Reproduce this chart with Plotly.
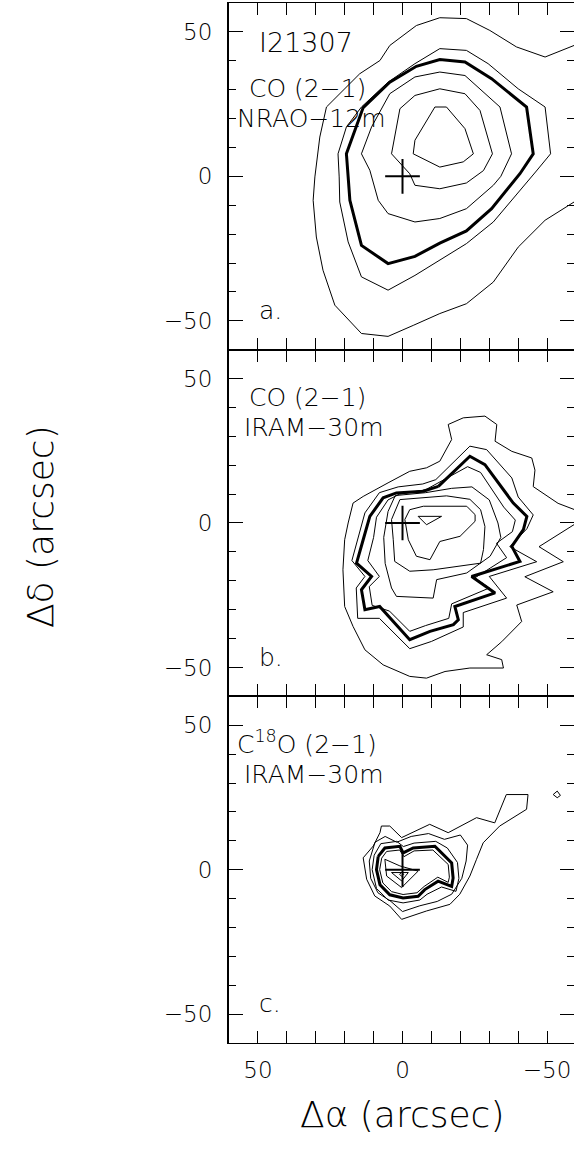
import plotly.graph_objects as go

# ---------------- data (offsets in arcsec) ----------------
SOURCE_POS = (0.0, 0.0)

# Panel a: CO(2-1) NRAO-12m contours (outer -> inner); A3 is the thick level
A1 = [(-64, 47.5), (-59.3, 45.3), (-49.3, 41.3), (-39.4, 44.8), (-30.2, 50.5), (-22.1, 54.6), (-12.9, 54.9),
      (-4.8, 52.2), (4.4, 45.3), (7.8, 40.1), (14.8, 35.5), (21.7, 28.6), (26.3, 24.0), (28.6, 13.6),
      (30.3, -0.2), (30.9, -8.3), (29.8, -21.0), (27.5, -32.5), (23.4, -44.6), (14.2, -54.4), (5.0, -55.4),
      (-3.7, -51.6), (-12.9, -47.5), (-22.1, -44.1), (-31.4, -36.6), (-40.0, -24.5), (-49.3, -15.2),
      (-59.3, -8.9), (-64, -6)]
A2 = [(21.9, -0.2), (22.3, 7.8), (19.4, 17.1), (14.2, 24.0), (5.0, 32.6), (-4.3, 39.0), (-12.9, 44.2),
      (-22.1, 43.6), (-29.6, 39.0), (-40.0, 30.3), (-49.3, 24.0), (-51.2, 7.8), (-46.0, 1.5), (-40.6, -4.8),
      (-31.4, -15.8), (-22.1, -23.3), (-12.9, -29.1), (-4.3, -34.3), (5.0, -39.4), (14.2, -34.8),
      (18.8, -22.7), (21.7, -8.9)]
A3 = [(18.8, -0.2), (19.4, 7.8), (13.6, 23.8), (4.4, 32.6), (-4.8, 38.1), (-12.9, 40.4), (-21.6, 39.6),
      (-30.8, 33.8), (-42.9, 24.0), (-45.2, 7.8), (-40.6, 0.9), (-30.8, -11.2), (-22.1, -18.9),
      (-12.9, -23.1), (-4.3, -27.7), (5.0, -30.2), (14.2, -23.9), (18.2, -8.3)]
A4 = [(14.2, 7.8), (10.7, 17.1), (4.4, 28.6), (-4.3, 34.4), (-12.9, 36.1), (-21.6, 34.9), (-33.7, 24.0),
      (-37.7, 7.8), (-34.0, 0.0), (-31.4, -3.1), (-22.1, -11.2), (-12.9, -14.6), (-4.3, -15.8),
      (5.0, -12.9), (8.4, -8.3), (11.3, 2.1)]
A5 = [(3.8, 7.8), (0.9, 23.4), (-4.3, 28.0), (-12.9, 30.3), (-21.6, 28.6), (-26.8, 22.8), (-31.1, 7.8),
      (-28.0, 2.0), (-22.1, -2.3), (-12.9, -4.3), (-4.3, -3.1), (-2.5, 0.9)]
A6 = [(-11.2, 24.0), (-15.2, 24.0), (-21.6, 16.5), (-24.5, 7.8), (-21.0, 5.0), (-12.9, 3.2), (-3.7, 7.8),
      (-4.3, 12.5)]

# Panel b: CO(2-1) IRAM-30m contours; B3 is the thick level
B1 = [(-15.8, 34.1), (-21.0, 36.4), (-28.5, 37.0), (-32.6, 34.1), (-32.0, 28.3), (-37.8, 24.8), (-44.7, 22.5),
      (-45.8, 18.3), (-45.2, 12.6), (-53.8, 6.8), (-59.3, 4.7), (-63.0, 3.0), (-61.0, 0.5), (-47.2, -8.2),
      (-55.6, -13.4), (-42.3, -18.6), (-52.1, -23.8), (-39.5, -28.4), (-41.2, -34.1), (-34.3, -41.1),
      (-29.1, -45.6), (-34.3, -47.3), (-34.9, -50.2), (-23.3, -50.2), (-14.7, -51.4), (-8.3, -53.7),
      (-2.5, -53.1), (6.7, -49.1), (13.0, -43.9), (17.1, -35.8), (20.0, -28.9), (20.6, -16.2), (20.0, -5.8),
      (18.8, 0.0), (17.1, 6.9), (13.6, 9.2), (5.0, 13.9), (-2.5, 17.9), (-8.3, 19.1), (-12.9, 21.4),
      (-17.0, 28.9)]
B2 = [(-7.0, 13.5), (-11.5, 15.0), (-23.3, 26.6), (-29.1, 25.4), (-37.8, 15.6), (-40.0, 9.0), (-45.2, 2.8),
      (-43.0, -2.0), (-37.1, -8.2), (-46.4, -13.4), (-30.0, -18.5), (-36.0, -26.0), (-21.0, -31.0),
      (-21.0, -36.0), (-10.0, -41.0), (-2.5, -43.5), (8.0, -33.0), (15.5, -33.0), (16.0, -22.5),
      (13.0, -18.5), (17.5, -13.0), (15.3, -5.0), (13.0, 3.5), (8.0, 10.5), (1.5, 12.5)]
B3 = [(-12.4, 12.7), (-23.3, 23.1), (-28.5, 20.2), (-38.3, 6.9), (-43.0, 2.3), (-41.8, -2.3), (-37.8, -8.1),
      (-40.6, -13.3), (-23.9, -18.5), (-32.0, -24.2), (-18.1, -28.9), (-19.3, -33.5), (-17.6, -35.2),
      (-9.5, -37.5), (-2.5, -40.4), (7.9, -28.9), (13.0, -30.0), (14.2, -23.1), (10.7, -18.5),
      (15.9, -13.9), (13.6, -5.8), (11.3, 2.3), (6.7, 8.7), (2.1, 10.4), (-7.2, 11.0)]
B4 = [(-8.0, 11.5), (-22.5, 19.5), (-27.0, 17.5), (-35.0, 5.5), (-39.0, 1.0), (-38.0, -3.0), (-32.5, -7.0),
      (-36.0, -12.0), (-25.0, -19.0), (-30.0, -22.5), (-17.0, -28.0), (-16.0, -33.0), (-8.0, -35.5),
      (-2.5, -37.5), (4.5, -30.5), (10.5, -28.5), (11.5, -22.0), (8.0, -18.5), (12.0, -13.0),
      (10.0, -5.0), (9.0, 2.0), (5.0, 8.0), (1.0, 10.0)]
B5 = [(2.5, 9.5), (-8.0, 10.5), (-17.0, 12.0), (-24.0, 12.5), (-30.0, 8.0), (-33.0, 0.0), (-34.0, -5.0),
      (-30.3, -11.5), (-22.2, -17.3), (-11.8, -19.6), (-10.6, -26.0), (2.1, -25.4), (3.8, -22.5),
      (6.0, -14.0), (6.5, -5.0), (5.0, 4.0)]
B6 = [(0.9, 8.1), (-15.2, 9.4), (-23.3, 8.2), (-27.0, 4.6), (-28.5, -1.2), (-28.0, -9.2), (-27.0, -13.9),
      (-10.6, -16.2), (-2.5, -16.7), (2.7, -13.3), (3.2, -5.8), (3.8, 1.2)]
B7 = [(-2.5, 4.6), (-7.2, 5.8), (-22.2, 5.8), (-25.1, 2.9), (-25.1, 0.6), (-19.9, -4.6), (-12.9, -6.4),
      (-9.5, -12.7), (-4.8, -11.5), (-2.0, -5.8), (-0.8, 1.2)]
B8 = [(-5.4, 2.3), (-13.5, 2.3), (-8.3, -0.6)]

# Panel c: C18O(2-1) IRAM-30m contours; C4 is the thick level
C1 = [(7.3, 15.1), (4.4, 15.1), (0.3, 11.1), (-9.4, 15.7), (-15.8, 12.8), (-25.6, 18.0), (-31.9, 16.2),
      (-35.9, 26.0), (-43.4, 26.0), (-42.9, 20.9), (-33.6, 15.1), (-27.9, 9.3), (-25.6, 3.6), (-23.3, -2.2),
      (-19.8, -8.5), (-16.4, -12.0), (-8.3, -14.3), (0.3, -17.2), (4.4, -12.6), (9.6, -9.1), (12.4, -3.3),
      (13.6, 4.1), (10.1, 8.2), (7.8, 12.8)]
C2 = [(9.5, 9.5), (6.0, 11.5), (2.0, 9.5), (-3.0, 11.5), (-9.0, 12.5), (-14.5, 10.5), (-20.0, 12.0),
      (-22.5, 8.5), (-22.0, 3.0), (-20.5, -3.0), (-17.0, -8.5), (-12.0, -11.0), (-6.0, -12.5), (0.0, -14.5),
      (4.0, -11.0), (8.5, -8.0), (11.0, -3.0), (11.5, 3.0)]
C3 = [(7.5, 9.0), (2.0, 9.8), (-0.3, 8.0), (-4.0, 9.2), (-11.5, 9.8), (-15.5, 7.5), (-19.0, 2.5),
      (-19.5, -3.0), (-18.5, -7.5), (-13.5, -6.0), (-8.5, -8.5), (-6.0, -10.5), (-0.2, -11.5), (5.0, -10.5),
      (9.0, -6.5), (10.5, 0.0), (9.8, 5.0)]
C4 = [(8.4, 4.6), (6.1, 7.5), (0.9, 8.1), (-0.2, 5.8), (-3.7, 7.5), (-11.2, 8.1), (-17.0, 2.3), (-17.5, -2.9),
      (-17.0, -5.8), (-12.3, -4.0), (-7.7, -6.9), (-5.4, -9.2), (-0.2, -9.8), (4.4, -8.7), (7.8, -5.2),
      (9.0, 0.0)]
C5 = [(7.2, 4.0), (5.5, 6.3), (1.0, 6.8), (-0.5, 4.5), (-4.0, 6.5), (-10.5, 6.8), (-15.8, 1.8),
      (-16.2, -2.6), (-15.8, -4.4), (-12.2, -2.6), (-7.5, -5.8), (-5.0, -8.0), (-0.2, -8.6), (3.8, -7.6),
      (6.8, -4.6), (7.9, 0.0)]
C6 = [(6.1, 3.6), (0.9, 1.3), (-5.4, -0.5), (0.3, -6.2), (5.5, -2.2)]
C7 = [(3.8, -1.0), (-2.0, -1.0), (0.3, -3.9)]
C8 = [(1.0, -1.6), (0.3, -0.9), (-0.4, -1.6), (0.3, -2.3)]
C9 = [(-52.1, 26.0), (-53.5, 27.2), (-54.6, 25.7), (-53.5, 24.9)]

PANEL_A = {"open": [A1], "thin": [A2, A4, A5, A6], "thick": [A3]}
PANEL_B = {"open": [], "thin": [B1, B2, B4, B5, B6, B7, B8], "thick": [B3]}
PANEL_C = {"open": [], "thin": [C1, C2, C3, C5, C6, C7, C8, C9], "thick": [C4]}

PANEL_TEXT = [
    [("I21307", 50.4, 46.4, 27), ("CO (2−1)", 53.9, 30.4, 25), ("NRAO−12m", 58.0, 20.1, 25),
     ("a.", 50.4, -46.4, 25)],
    [("CO (2−1)", 53.9, 43.6, 25), ("IRAM−30m", 55.5, 32.9, 25), ("b.", 50.4, -46.7, 25)],
    [("C<sup>18</sup>O (2−1)", 58.0, 43.9, 25), ("IRAM−30m", 55.5, 32.9, 25), ("c.", 50.4, -46.4, 25)],
]

X_TICKVALS = [50, 40, 30, 20, 10, 0, -10, -20, -30, -40, -50]
X_TICKTEXT = ["50", " ", " ", " ", " ", "0", " ", " ", " ", " ", "−50"]
Y_TICKVALS = [50, 0, -50]
Y_TICKTEXT = ["50", "0", "−50"]
Y_MINOR = [-40, -30, -20, -10, 10, 20, 30, 40]
X_RANGE = [60, -59.3]
Y_RANGE = [-60, 60]

# ---------------- figure ----------------
FONT = "DejaVu Sans, sans-serif"
fig = go.Figure()


def xy(pts, closed):
    xs = [p[0] for p in pts]
    ys = [p[1] for p in pts]
    if closed:
        xs.append(pts[0][0])
        ys.append(pts[0][1])
    return xs, ys


panels = [PANEL_A, PANEL_B, PANEL_C]
for i, pan in enumerate(panels):
    xa = "x" if i == 0 else f"x{i+1}"
    ya = "y" if i == 0 else f"y{i+1}"
    for c in pan["open"]:
        xs, ys = xy(c, False)
        fig.add_trace(go.Scatter(x=xs, y=ys, mode="lines", line=dict(color="black", width=1),
                                 xaxis=xa, yaxis=ya, showlegend=False, hoverinfo="skip"))
    for c in pan["thin"]:
        xs, ys = xy(c, True)
        fig.add_trace(go.Scatter(x=xs, y=ys, mode="lines", line=dict(color="black", width=1),
                                 xaxis=xa, yaxis=ya, showlegend=False, hoverinfo="skip"))
    for c in pan["thick"]:
        xs, ys = xy(c, True)
        fig.add_trace(go.Scatter(x=xs, y=ys, mode="lines", line=dict(color="black", width=3),
                                 xaxis=xa, yaxis=ya, showlegend=False, hoverinfo="skip"))
    # source cross
    arm = 6
    cx, cy = SOURCE_POS
    fig.add_trace(go.Scatter(x=[cx + arm, cx - arm, None, cx, cx], y=[cy, cy, None, cy + arm, cy - arm],
                             mode="lines", line=dict(color="black", width=2),
                             xaxis=xa, yaxis=ya, showlegend=False, hoverinfo="skip"))
    # invisible trace so the right-side tick axis is drawn
    fig.add_trace(go.Scatter(x=[cx], y=[cy], mode="lines", xaxis=xa, yaxis=f"y{i+4}",
                             showlegend=False, hoverinfo="skip", opacity=0))

    for txt, tx, ty, fs in PANEL_TEXT[i]:
        fig.add_annotation(text=txt, x=tx, y=ty, xref=xa, yref=ya, xanchor="left", yanchor="middle",
                           showarrow=False, font=dict(family=FONT, size=fs, color="black", weight=200))

domains = [[2 / 3, 1], [1 / 3, 2 / 3], [0, 1 / 3]]
layout = dict(
    width=574, height=1149,
    margin=dict(l=229, r=0, t=3, b=106),
    plot_bgcolor="white", paper_bgcolor="white",
    font=dict(family=FONT, size=23, color="black", weight=200),
)
for i in range(3):
    xk = "xaxis" if i == 0 else f"xaxis{i+1}"
    yk = "yaxis" if i == 0 else f"yaxis{i+1}"
    ya = "y" if i == 0 else f"y{i+1}"
    xa = "x" if i == 0 else f"x{i+1}"
    layout[xk] = dict(range=X_RANGE, anchor=ya, domain=[0, 1], showgrid=False, zeroline=False,
                      showline=True, linecolor="black", linewidth=1.3, mirror="ticks",
                      ticks="inside", ticklen=12, tickwidth=1.3, tickcolor="black",
                      tickvals=X_TICKVALS, ticktext=X_TICKTEXT, showticklabels=(i == 2),
                      tickangle=0, ticklabelstandoff=6,
                      tickfont=dict(family=FONT, size=23, color="black", weight=200))
    layout[yk] = dict(range=Y_RANGE, anchor=xa, domain=domains[i], showgrid=False, zeroline=False,
                      showline=True, linecolor="black", linewidth=2,
                      ticks="inside", ticklen=14, tickwidth=1.3, tickcolor="black",
                      tickvals=Y_TICKVALS, ticktext=Y_TICKTEXT, ticklabelstandoff=10,
                      tickfont=dict(family=FONT, size=23, color="black", weight=200),
                      minor=dict(tickvals=Y_MINOR, ticks="inside", ticklen=7, tickwidth=1.3,
                                 tickcolor="black"))
    layout[f"yaxis{i+4}"] = dict(range=Y_RANGE, anchor=xa, overlaying=ya, side="right",
                                 showgrid=False, zeroline=False, showline=False,
                                 ticks="inside", ticklen=14, tickwidth=1.3, tickcolor="black",
                                 tickvals=Y_TICKVALS, showticklabels=False,
                                 minor=dict(tickvals=Y_MINOR, ticks="inside", ticklen=7, tickwidth=1.3,
                                            tickcolor="black"))
fig.update_layout(**layout)

fig.add_annotation(text="Δα (arcsec)", x=0.501, y=-0.0692, xref="paper", yref="paper",
                   xanchor="center", yanchor="middle", showarrow=False,
                   font=dict(family=FONT, size=36, color="black", weight=200))
fig.add_annotation(text="Δδ (arcsec)", x=-0.548, y=0.497, xref="paper", yref="paper",
                   xanchor="center", yanchor="middle", textangle=-90, showarrow=False,
                   font=dict(family=FONT, size=36, color="black", weight=200))

fig.write_html("out.html")
